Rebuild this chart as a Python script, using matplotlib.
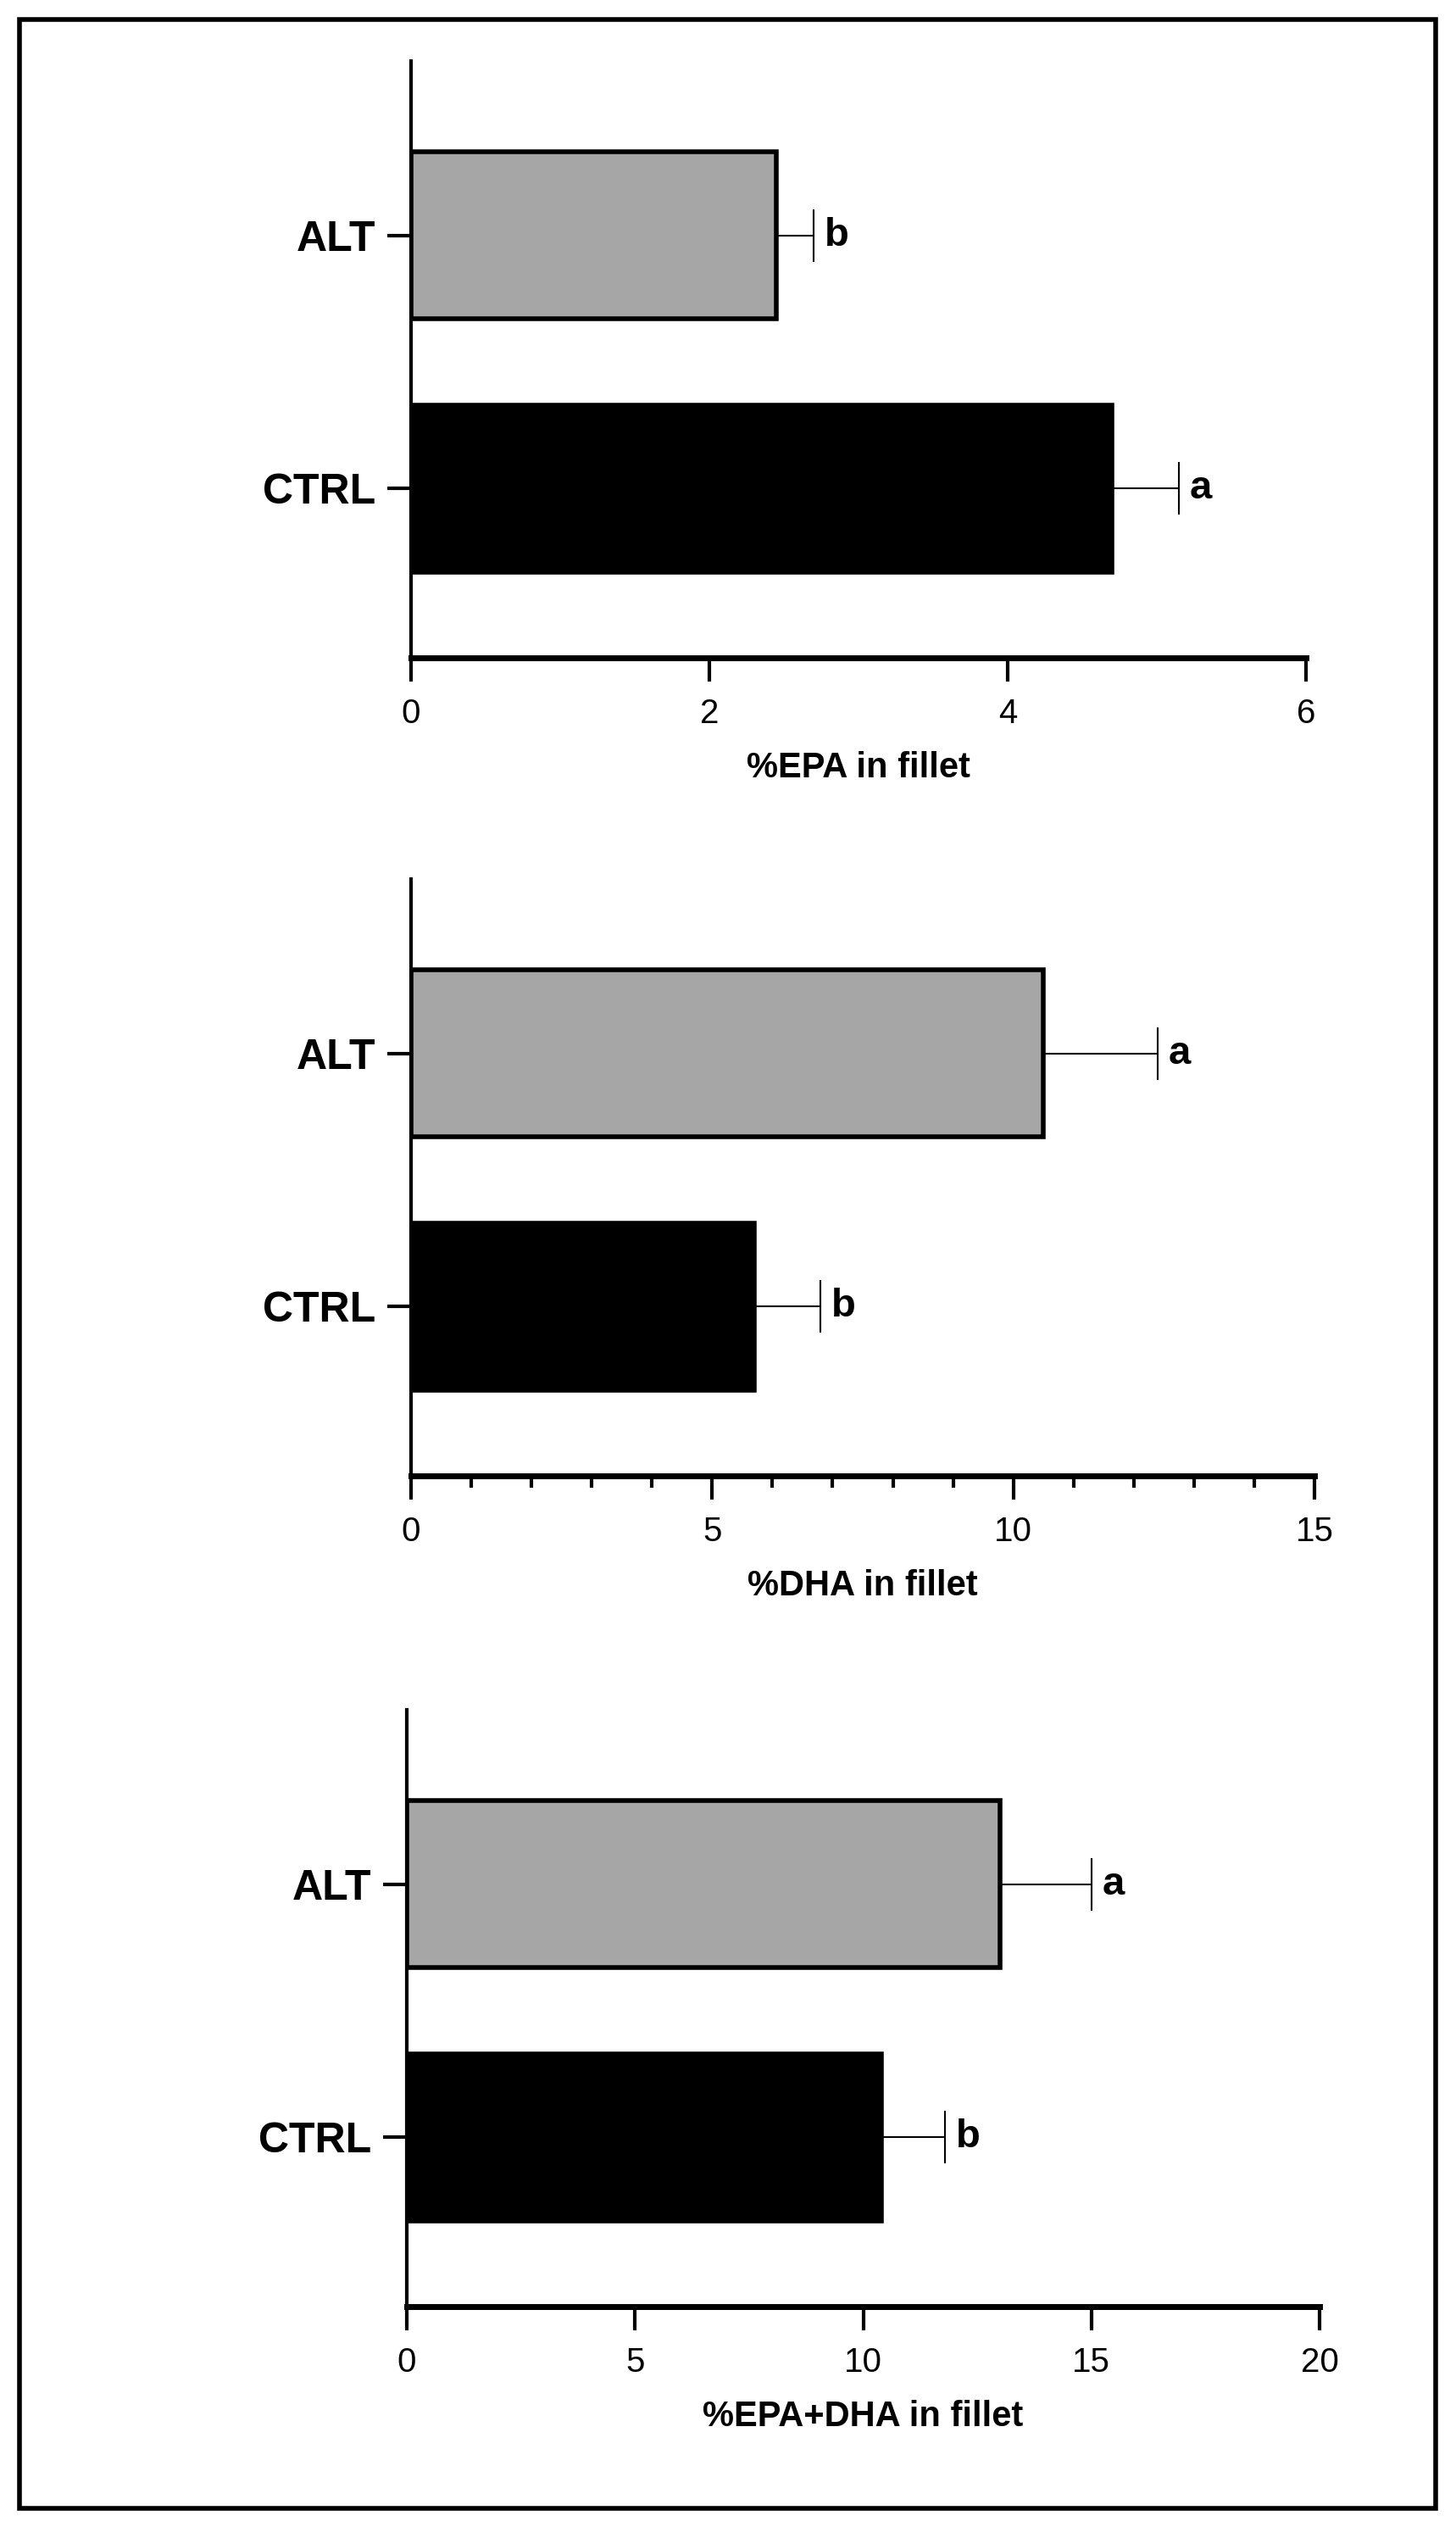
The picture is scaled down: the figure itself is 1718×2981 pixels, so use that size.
import matplotlib
matplotlib.use('Agg')
import matplotlib.pyplot as plt
from matplotlib.ticker import MultipleLocator
from matplotlib.patches import Rectangle

groups = ["CTRL", "ALT"]
colors = ["black", "#a6a6a6"]

epa_means = [4.7, 2.45]
epa_errs = [0.45, 0.25]
epa_letters = ["a", "b"]

dha_means = [5.7, 10.5]
dha_errs = [1.1, 1.9]
dha_letters = ["b", "a"]

sum_means = [10.4, 13.0]
sum_errs = [1.4, 2.0]
sum_letters = ["b", "a"]

plt.rcParams['font.family'] = ['Liberation Sans', 'DejaVu Sans']

W, H = 1718, 2981
fig = plt.figure(figsize=(W / 100, H / 100), dpi=100)
fig.patches.append(Rectangle((23 / W, 1 - 2959 / H), (1694 - 23) / W, (2959 - 23) / H,
                             transform=fig.transFigure, fill=False, lw=4, ec="black"))


def panel(rect, means, errs, letters, xmax, step, minor, label):
    l, t, r, b = rect
    ax = fig.add_axes([l / W, 1 - b / H, (r - l) / W, (b - t) / H])
    y = [0, 1]
    ax.barh(y, means, height=0.66, color=colors, edgecolor="black", linewidth=4, zorder=2)
    ax.errorbar(means, y, xerr=[[0, 0], errs], fmt="none", ecolor="black",
                elinewidth=1.5, capsize=22, capthick=1.5, zorder=1)
    for yi, m, e, s in zip(y, means, errs, letters):
        ax.text(m + e + xmax * 0.012, yi, s, fontsize=34, fontweight="bold", va="center", ha="left")
    ax.set_xlim(0, xmax)
    ax.set_ylim(-0.67, 1.69)
    ax.set_yticks(y)
    ax.set_yticklabels(groups, fontsize=36, fontweight="bold")
    ax.xaxis.set_major_locator(MultipleLocator(step))
    if minor:
        ax.xaxis.set_minor_locator(MultipleLocator(minor))
        ax.tick_params(axis="x", which="minor", length=10, width=3)
    ax.tick_params(axis="x", which="major", length=20, width=3, labelsize=29, pad=14)
    ax.tick_params(axis="y", length=20, width=3, pad=10)
    for s in ["top", "right"]:
        ax.spines[s].set_visible(False)
    ax.spines["left"].set_linewidth(3)
    ax.spines["bottom"].set_linewidth(5)
    ax.set_xlabel(label, fontsize=30, fontweight="bold", labelpad=18)
    return ax


panel((485, 72, 1541, 776), epa_means, epa_errs, epa_letters, 6, 2, None, "%EPA in fillet")
panel((485, 1037, 1551, 1741), dha_means, dha_errs, dha_letters, 15, 5, 1, "%DHA in fillet")
panel((480, 2017, 1557, 2721), sum_means, sum_errs, sum_letters, 20, 5, None, "%EPA+DHA in fillet")

fig.savefig("out.png", dpi=100)
